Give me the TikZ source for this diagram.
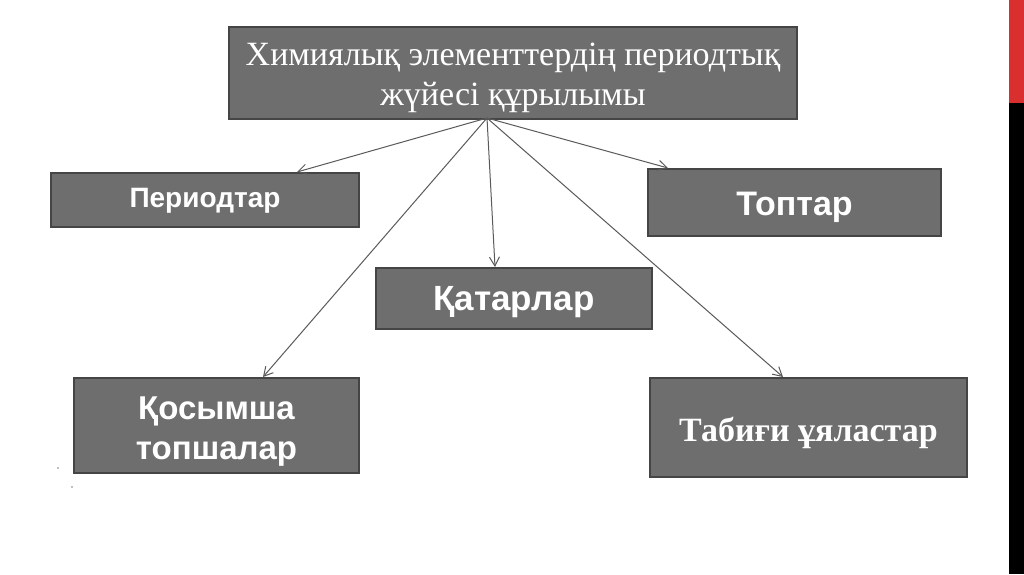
\documentclass[tikz,border=0pt]{standalone}
\usepackage{fontspec}
\setmainfont{Liberation Serif}
\newfontfamily\arialf{Liberation Sans}
\usetikzlibrary{arrows.meta}
\definecolor{boxfill}{HTML}{6E6E6E}
\definecolor{boxline}{HTML}{454545}
\definecolor{arrowc}{HTML}{5A5A5A}
\definecolor{stripred}{HTML}{D9302F}
\tikzset{
  gbox/.style={draw=boxline, line width=2pt, fill=boxfill, text=white, inner sep=0pt, anchor=north west},
  conn/.style={draw=arrowc, line width=1pt, -{Straight Barb[length=9pt,width=10pt]}}
}
\newcommand{\lowr}[2]{\raisebox{#1}[\height][\depth]{#2}}
\newcommand{\twoline}[3]{\lowr{#1}{\begin{tabular}{@{}c@{}}#2\\#3\end{tabular}}}
\begin{document}
\begin{tikzpicture}[x=1pt,y=-1pt]
\useasboundingbox (0,0) rectangle (1024,574);
\fill[white] (0,0) rectangle (1024,574);
\fill[stripred] (1009,0) rectangle (1024,103);
\fill[black] (1009,103) rectangle (1024,574);
% boxes
\node[gbox, minimum width=568pt, minimum height=92pt, font=\fontsize{34}{40}\selectfont] (top) at (228,26) {\twoline{-4pt}{Химиялық элементтердің периодтық}{жүйесі құрылымы}};
\node[gbox, minimum width=308pt, minimum height=54pt, font=\arialf\bfseries\fontsize{28}{30}\selectfont] (per) at (50,172) {\lowr{-1pt}{Периодтар}};
\node[gbox, minimum width=293pt, minimum height=67pt, font=\arialf\bfseries\fontsize{34}{38}\selectfont] (top2) at (647,168) {\lowr{-5pt}{Топтар}};
\node[gbox, minimum width=276pt, minimum height=61pt, font=\arialf\bfseries\fontsize{35}{38}\selectfont] (kat) at (375,267) {\lowr{-4pt}{Қатарлар}};
\node[gbox, minimum width=285pt, minimum height=95pt, font=\arialf\bfseries\fontsize{33}{40}\selectfont] (kos) at (73,377) {\twoline{-6pt}{Қосымша}{топшалар}};
\node[gbox, minimum width=317pt, minimum height=99pt, font=\bfseries\fontsize{34}{38}\selectfont] (tab) at (649,377) {\lowr{-5pt}{Табиғи ұяластар}};
% connectors
\coordinate (o) at (487,118);
\coordinate (e1) at (297,172);
\coordinate (e2) at (668,168);
\coordinate (e3) at (495,267);
\coordinate (e4) at (263,377);
\coordinate (e5) at (783,377);
\draw[conn] (o) -- (e1);
\draw[conn] (o) -- (e2);
\draw[conn] (o) -- (e3);
\draw[conn] (o) -- (e4);
\draw[conn] (o) -- (e5);
\fill[gray] (58,468) circle (0.8pt);
\fill[gray] (72,487) circle (0.8pt);
\end{tikzpicture}
\end{document}
